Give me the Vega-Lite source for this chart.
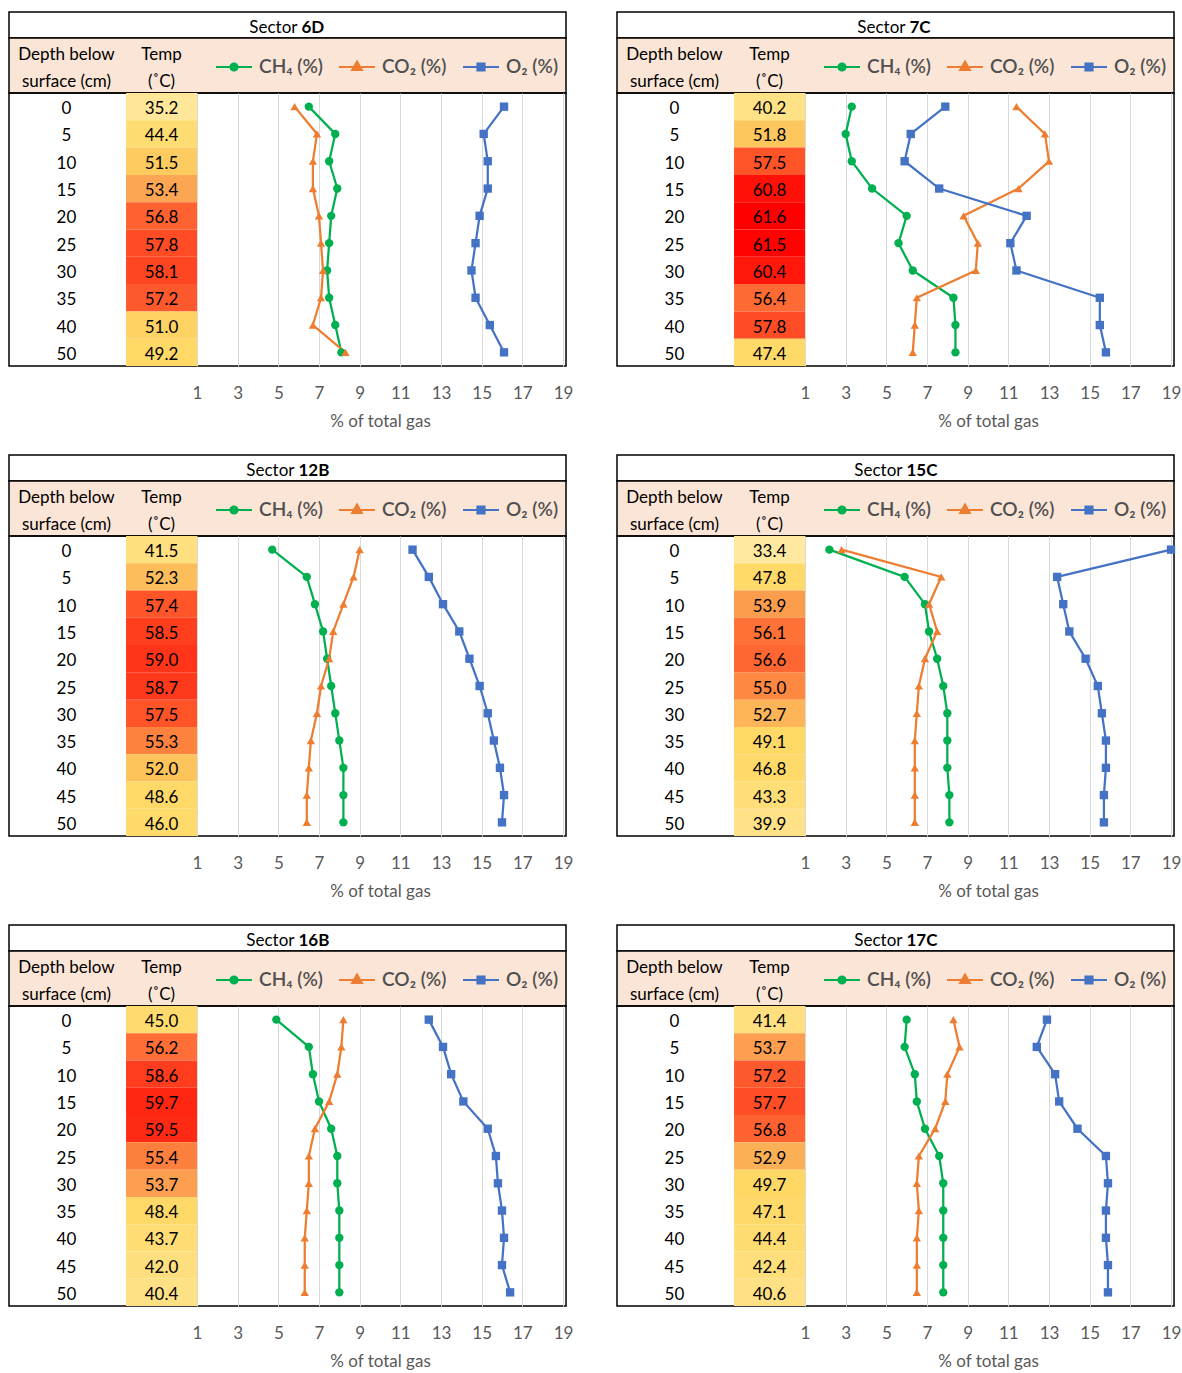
{
  "$schema": "https://vega.github.io/schema/vega-lite/v6.json",
  "padding": {"left": 8, "top": 11, "right": 2, "bottom": 0},
  "config": {
    "font": "Lato",
    "view": {"stroke": null},
    "text": {"font": "Lato", "fontSize": 17, "color": "#000000"},
    "axis": {"labelFont": "Lato", "titleFont": "Lato"}
  },
  "datasets": {
    "d6D": [
      {"depth": 0, "temp": 35.2, "ch4": 6.5, "co2": 5.8, "o2": 16.1},
      {"depth": 5, "temp": 44.4, "ch4": 7.8, "co2": 6.9, "o2": 15.1},
      {"depth": 10, "temp": 51.5, "ch4": 7.5, "co2": 6.7, "o2": 15.3},
      {"depth": 15, "temp": 53.4, "ch4": 7.9, "co2": 6.7, "o2": 15.3},
      {"depth": 20, "temp": 56.8, "ch4": 7.6, "co2": 7.0, "o2": 14.9},
      {"depth": 25, "temp": 57.8, "ch4": 7.5, "co2": 7.1, "o2": 14.7},
      {"depth": 30, "temp": 58.1, "ch4": 7.4, "co2": 7.2, "o2": 14.5},
      {"depth": 35, "temp": 57.2, "ch4": 7.5, "co2": 7.1, "o2": 14.7},
      {"depth": 40, "temp": 51.0, "ch4": 7.8, "co2": 6.7, "o2": 15.4},
      {"depth": 50, "temp": 49.2, "ch4": 8.1, "co2": 8.3, "o2": 16.1}
    ],
    "d7C": [
      {"depth": 0, "temp": 40.2, "ch4": 3.3, "co2": 11.4, "o2": 7.9},
      {"depth": 5, "temp": 51.8, "ch4": 3.0, "co2": 12.8, "o2": 6.2},
      {"depth": 10, "temp": 57.5, "ch4": 3.3, "co2": 13.0, "o2": 5.9},
      {"depth": 15, "temp": 60.8, "ch4": 4.3, "co2": 11.5, "o2": 7.6},
      {"depth": 20, "temp": 61.6, "ch4": 6.0, "co2": 8.8, "o2": 11.9},
      {"depth": 25, "temp": 61.5, "ch4": 5.6, "co2": 9.5, "o2": 11.1},
      {"depth": 30, "temp": 60.4, "ch4": 6.3, "co2": 9.4, "o2": 11.4},
      {"depth": 35, "temp": 56.4, "ch4": 8.3, "co2": 6.5, "o2": 15.5},
      {"depth": 40, "temp": 57.8, "ch4": 8.4, "co2": 6.4, "o2": 15.5},
      {"depth": 50, "temp": 47.4, "ch4": 8.4, "co2": 6.3, "o2": 15.8}
    ],
    "d12B": [
      {"depth": 0, "temp": 41.5, "ch4": 4.7, "co2": 9.0, "o2": 11.6},
      {"depth": 5, "temp": 52.3, "ch4": 6.4, "co2": 8.7, "o2": 12.4},
      {"depth": 10, "temp": 57.4, "ch4": 6.8, "co2": 8.2, "o2": 13.1},
      {"depth": 15, "temp": 58.5, "ch4": 7.2, "co2": 7.7, "o2": 13.9},
      {"depth": 20, "temp": 59.0, "ch4": 7.4, "co2": 7.5, "o2": 14.4},
      {"depth": 25, "temp": 58.7, "ch4": 7.6, "co2": 7.1, "o2": 14.9},
      {"depth": 30, "temp": 57.5, "ch4": 7.8, "co2": 6.9, "o2": 15.3},
      {"depth": 35, "temp": 55.3, "ch4": 8.0, "co2": 6.6, "o2": 15.6},
      {"depth": 40, "temp": 52.0, "ch4": 8.2, "co2": 6.5, "o2": 15.9},
      {"depth": 45, "temp": 48.6, "ch4": 8.2, "co2": 6.4, "o2": 16.1},
      {"depth": 50, "temp": 46.0, "ch4": 8.2, "co2": 6.4, "o2": 16.0}
    ],
    "d15C": [
      {"depth": 0, "temp": 33.4, "ch4": 2.2, "co2": 2.8, "o2": 19.0},
      {"depth": 5, "temp": 47.8, "ch4": 5.9, "co2": 7.7, "o2": 13.4},
      {"depth": 10, "temp": 53.9, "ch4": 6.9, "co2": 7.1, "o2": 13.7},
      {"depth": 15, "temp": 56.1, "ch4": 7.1, "co2": 7.5, "o2": 14.0},
      {"depth": 20, "temp": 56.6, "ch4": 7.5, "co2": 6.9, "o2": 14.8},
      {"depth": 25, "temp": 55.0, "ch4": 7.8, "co2": 6.6, "o2": 15.4},
      {"depth": 30, "temp": 52.7, "ch4": 8.0, "co2": 6.5, "o2": 15.6},
      {"depth": 35, "temp": 49.1, "ch4": 8.0, "co2": 6.4, "o2": 15.8},
      {"depth": 40, "temp": 46.8, "ch4": 8.0, "co2": 6.4, "o2": 15.8},
      {"depth": 45, "temp": 43.3, "ch4": 8.1, "co2": 6.4, "o2": 15.7},
      {"depth": 50, "temp": 39.9, "ch4": 8.1, "co2": 6.4, "o2": 15.7}
    ],
    "d16B": [
      {"depth": 0, "temp": 45.0, "ch4": 4.9, "co2": 8.2, "o2": 12.4},
      {"depth": 5, "temp": 56.2, "ch4": 6.5, "co2": 8.1, "o2": 13.1},
      {"depth": 10, "temp": 58.6, "ch4": 6.7, "co2": 7.9, "o2": 13.5},
      {"depth": 15, "temp": 59.7, "ch4": 7.0, "co2": 7.5, "o2": 14.1},
      {"depth": 20, "temp": 59.5, "ch4": 7.6, "co2": 6.8, "o2": 15.3},
      {"depth": 25, "temp": 55.4, "ch4": 7.9, "co2": 6.5, "o2": 15.7},
      {"depth": 30, "temp": 53.7, "ch4": 7.9, "co2": 6.5, "o2": 15.8},
      {"depth": 35, "temp": 48.4, "ch4": 8.0, "co2": 6.4, "o2": 16.0},
      {"depth": 40, "temp": 43.7, "ch4": 8.0, "co2": 6.3, "o2": 16.1},
      {"depth": 45, "temp": 42.0, "ch4": 8.0, "co2": 6.3, "o2": 16.0},
      {"depth": 50, "temp": 40.4, "ch4": 8.0, "co2": 6.3, "o2": 16.4}
    ],
    "d17C": [
      {"depth": 0, "temp": 41.4, "ch4": 6.0, "co2": 8.3, "o2": 12.9},
      {"depth": 5, "temp": 53.7, "ch4": 5.9, "co2": 8.6, "o2": 12.4},
      {"depth": 10, "temp": 57.2, "ch4": 6.4, "co2": 8.0, "o2": 13.3},
      {"depth": 15, "temp": 57.7, "ch4": 6.5, "co2": 7.9, "o2": 13.5},
      {"depth": 20, "temp": 56.8, "ch4": 6.9, "co2": 7.4, "o2": 14.4},
      {"depth": 25, "temp": 52.9, "ch4": 7.6, "co2": 6.6, "o2": 15.8},
      {"depth": 30, "temp": 49.7, "ch4": 7.8, "co2": 6.5, "o2": 15.9},
      {"depth": 35, "temp": 47.1, "ch4": 7.8, "co2": 6.6, "o2": 15.8},
      {"depth": 40, "temp": 44.4, "ch4": 7.8, "co2": 6.5, "o2": 15.8},
      {"depth": 45, "temp": 42.4, "ch4": 7.8, "co2": 6.5, "o2": 15.9},
      {"depth": 50, "temp": 40.6, "ch4": 7.8, "co2": 6.5, "o2": 15.9}
    ]
  },
  "resolve": {"scale": {"color": "independent"}, "legend": {"color": "independent"}},
  "spacing": 24,
  "vconcat": [
    {
      "hconcat": [
        {
          "spacing": 0, "bounds": "flush",
          "resolve": {"scale": {"color": "independent"}, "legend": {"color": "independent"}},
          "vconcat": [
            {"width": 557, "height": 26, "view": {"stroke": "#000000", "strokeWidth": 1.5, "fill": "#ffffff"},
             "data": {"values": [{"word": "Sector", "code": "6D"}]},
             "layer": [
               {"mark": {"type": "text", "align": "right", "baseline": "middle", "dx": 10, "dy": 2.5}, "encoding": {"text": {"field": "word", "type": "nominal"}}},
               {"mark": {"type": "text", "align": "left", "baseline": "middle", "dx": 14, "dy": 2.5, "fontWeight": "bold"}, "encoding": {"text": {"field": "code", "type": "nominal"}}}
             ]},
            {"width": 557, "height": 55, "view": {"stroke": "#000000", "strokeWidth": 1.5, "fill": "#fbe5d6"},
             "data": {"values": [{"depthHead": "Depth below\nsurface (cm)", "tempHead": "Temp\n(˚C)"}]},
             "layer": [
               {"mark": {"type": "text", "lineBreak": "\n", "lineHeight": 27, "baseline": "middle", "dy": -10.5}, "encoding": {"x": {"datum": -5.42, "type": "quantitative", "scale": {"domain": [-8.246, 19.148], "nice": false, "zero": false}, "axis": null}, "text": {"field": "depthHead", "type": "nominal"}}},
               {"mark": {"type": "text", "lineBreak": "\n", "lineHeight": 27, "baseline": "middle", "dy": -10.5}, "encoding": {"x": {"datum": -0.746, "type": "quantitative", "axis": null}, "text": {"field": "tempHead", "type": "nominal"}}}
             ]},
            {"width": 557, "height": 273, "view": {"stroke": "#000000", "strokeWidth": 1.5},
             "data": {"name": "d6D"},
             "encoding": {"y": {"field": "depth", "type": "ordinal", "scale": {"type": "band", "paddingInner": 0, "paddingOuter": 0}, "axis": null}},
             "layer": [
               {"mark": {"type": "rect"}, "encoding": {"x": {"datum": -2.49, "type": "quantitative", "title": "% of total gas"}, "x2": {"datum": 1}, "fill": {"field": "temp", "type": "quantitative", "legend": null, "scale": {"type": "linear", "domain": [33.4, 40, 45, 49, 51, 52, 53.5, 55, 56.5, 58, 59.5, 61.6], "range": ["#ffe8a0", "#ffe187", "#ffdb6e", "#ffd966", "#fed263", "#fdc45c", "#fca352", "#fd8841", "#fe6833", "#ff4823", "#ff2a14", "#ff0000"], "interpolate": "rgb"}}}},
               {"mark": {"type": "text", "baseline": "middle", "dy": 2.5}, "encoding": {"x": {"datum": -0.746, "type": "quantitative", "title": "% of total gas"}, "text": {"field": "temp", "type": "quantitative", "format": ".1f"}}},
               {"mark": {"type": "text", "baseline": "middle", "dy": 2.5}, "encoding": {"x": {"datum": -5.42, "type": "quantitative", "title": "% of total gas"}, "text": {"field": "depth", "type": "quantitative"}}},
               {"transform": [{"fold": ["ch4", "co2", "o2"], "as": ["gas", "pct"]}],
                "encoding": {
                  "x": {"field": "pct", "type": "quantitative", "title": "% of total gas", "scale": {"domain": [-8.246, 19.148], "nice": false, "zero": false},
                        "axis": {"values": [1, 3, 5, 7, 9, 11, 13, 15, 17, 19], "grid": true, "gridColor": "#d9d9d9", "gridWidth": 1, "domain": false, "ticks": false, "labelFontSize": 17, "labelColor": "#595959", "labelPadding": 19, "titleFontSize": 17, "titleFontWeight": "normal", "titleColor": "#595959", "titlePadding": 12, "titleX": 371}},
                  "color": {"field": "gas", "type": "nominal", "scale": {"domain": ["ch4", "co2", "o2"], "range": ["#00b050", "#ed7d31", "#4472c4"]},
                            "legend": {"orient": "none", "legendX": 206, "legendY": -45, "direction": "horizontal", "title": null, "padding": 0,
                                       "labelExpr": "datum.value == 'ch4' ? 'CH₄ (%)' : datum.value == 'co2' ? 'CO₂ (%)' : 'O₂ (%)'",
                                       "labelFont": "Lato", "labelFontSize": 19, "labelColor": "#505050", "labelFontWeight": 600, "labelOffset": 6, "symbolSize": 1296, "symbolOpacity": 1, "columnPadding": 12,
                                       "encode": {"symbols": {"update": {
                                         "shape": {"signal": "datum.value == 'ch4' ? 'M-1,0L1,0M0.2,0A0.2,0.2,0,1,0,-0.2,0A0.2,0.2,0,1,0,0.2,0Z' : datum.value == 'co2' ? 'M-1,0L1,0M0,-0.3L0.27,0.17L-0.27,0.17Z' : 'M-1,0L1,0M-0.2,-0.2L0.2,-0.2L0.2,0.2L-0.2,0.2Z'"},
                                         "fill": {"signal": "datum.value == 'ch4' ? '#00b050' : datum.value == 'co2' ? '#ed7d31' : '#4472c4'"},
                                         "stroke": {"signal": "datum.value == 'ch4' ? '#00b050' : datum.value == 'co2' ? '#ed7d31' : '#4472c4'"},
                                         "strokeWidth": {"value": 2}, "opacity": {"value": 1}}}}}},
                  "order": {"field": "depth", "type": "quantitative"}
                },
                "layer": [
                  {"mark": {"type": "line", "strokeWidth": 2.25}},
                  {"mark": {"type": "point", "filled": true, "opacity": 1, "size": 70}, "encoding": {"shape": {"field": "gas", "type": "nominal", "scale": {"domain": ["ch4", "co2", "o2"], "range": ["circle", "triangle-up", "square"]}, "legend": null}}}
                ]}
             ]}
          ]
        },
        {
          "spacing": 0, "bounds": "flush",
          "resolve": {"scale": {"color": "independent"}, "legend": {"color": "independent"}},
          "vconcat": [
            {"width": 557, "height": 26, "view": {"stroke": "#000000", "strokeWidth": 1.5, "fill": "#ffffff"},
             "data": {"values": [{"word": "Sector", "code": "7C"}]},
             "layer": [
               {"mark": {"type": "text", "align": "right", "baseline": "middle", "dx": 10, "dy": 2.5}, "encoding": {"text": {"field": "word", "type": "nominal"}}},
               {"mark": {"type": "text", "align": "left", "baseline": "middle", "dx": 14, "dy": 2.5, "fontWeight": "bold"}, "encoding": {"text": {"field": "code", "type": "nominal"}}}
             ]},
            {"width": 557, "height": 55, "view": {"stroke": "#000000", "strokeWidth": 1.5, "fill": "#fbe5d6"},
             "data": {"values": [{"depthHead": "Depth below\nsurface (cm)", "tempHead": "Temp\n(˚C)"}]},
             "layer": [
               {"mark": {"type": "text", "lineBreak": "\n", "lineHeight": 27, "baseline": "middle", "dy": -10.5}, "encoding": {"x": {"datum": -5.42, "type": "quantitative", "scale": {"domain": [-8.246, 19.148], "nice": false, "zero": false}, "axis": null}, "text": {"field": "depthHead", "type": "nominal"}}},
               {"mark": {"type": "text", "lineBreak": "\n", "lineHeight": 27, "baseline": "middle", "dy": -10.5}, "encoding": {"x": {"datum": -0.746, "type": "quantitative", "axis": null}, "text": {"field": "tempHead", "type": "nominal"}}}
             ]},
            {"width": 557, "height": 273, "view": {"stroke": "#000000", "strokeWidth": 1.5},
             "data": {"name": "d7C"},
             "encoding": {"y": {"field": "depth", "type": "ordinal", "scale": {"type": "band", "paddingInner": 0, "paddingOuter": 0}, "axis": null}},
             "layer": [
               {"mark": {"type": "rect"}, "encoding": {"x": {"datum": -2.49, "type": "quantitative", "title": "% of total gas"}, "x2": {"datum": 1}, "fill": {"field": "temp", "type": "quantitative", "legend": null, "scale": {"type": "linear", "domain": [33.4, 40, 45, 49, 51, 52, 53.5, 55, 56.5, 58, 59.5, 61.6], "range": ["#ffe8a0", "#ffe187", "#ffdb6e", "#ffd966", "#fed263", "#fdc45c", "#fca352", "#fd8841", "#fe6833", "#ff4823", "#ff2a14", "#ff0000"], "interpolate": "rgb"}}}},
               {"mark": {"type": "text", "baseline": "middle", "dy": 2.5}, "encoding": {"x": {"datum": -0.746, "type": "quantitative", "title": "% of total gas"}, "text": {"field": "temp", "type": "quantitative", "format": ".1f"}}},
               {"mark": {"type": "text", "baseline": "middle", "dy": 2.5}, "encoding": {"x": {"datum": -5.42, "type": "quantitative", "title": "% of total gas"}, "text": {"field": "depth", "type": "quantitative"}}},
               {"transform": [{"fold": ["ch4", "co2", "o2"], "as": ["gas", "pct"]}],
                "encoding": {
                  "x": {"field": "pct", "type": "quantitative", "title": "% of total gas", "scale": {"domain": [-8.246, 19.148], "nice": false, "zero": false},
                        "axis": {"values": [1, 3, 5, 7, 9, 11, 13, 15, 17, 19], "grid": true, "gridColor": "#d9d9d9", "gridWidth": 1, "domain": false, "ticks": false, "labelFontSize": 17, "labelColor": "#595959", "labelPadding": 19, "titleFontSize": 17, "titleFontWeight": "normal", "titleColor": "#595959", "titlePadding": 12, "titleX": 371}},
                  "color": {"field": "gas", "type": "nominal", "scale": {"domain": ["ch4", "co2", "o2"], "range": ["#00b050", "#ed7d31", "#4472c4"]},
                            "legend": {"orient": "none", "legendX": 206, "legendY": -45, "direction": "horizontal", "title": null, "padding": 0,
                                       "labelExpr": "datum.value == 'ch4' ? 'CH₄ (%)' : datum.value == 'co2' ? 'CO₂ (%)' : 'O₂ (%)'",
                                       "labelFont": "Lato", "labelFontSize": 19, "labelColor": "#505050", "labelFontWeight": 600, "labelOffset": 6, "symbolSize": 1296, "symbolOpacity": 1, "columnPadding": 12,
                                       "encode": {"symbols": {"update": {
                                         "shape": {"signal": "datum.value == 'ch4' ? 'M-1,0L1,0M0.2,0A0.2,0.2,0,1,0,-0.2,0A0.2,0.2,0,1,0,0.2,0Z' : datum.value == 'co2' ? 'M-1,0L1,0M0,-0.3L0.27,0.17L-0.27,0.17Z' : 'M-1,0L1,0M-0.2,-0.2L0.2,-0.2L0.2,0.2L-0.2,0.2Z'"},
                                         "fill": {"signal": "datum.value == 'ch4' ? '#00b050' : datum.value == 'co2' ? '#ed7d31' : '#4472c4'"},
                                         "stroke": {"signal": "datum.value == 'ch4' ? '#00b050' : datum.value == 'co2' ? '#ed7d31' : '#4472c4'"},
                                         "strokeWidth": {"value": 2}, "opacity": {"value": 1}}}}}},
                  "order": {"field": "depth", "type": "quantitative"}
                },
                "layer": [
                  {"mark": {"type": "line", "strokeWidth": 2.25}},
                  {"mark": {"type": "point", "filled": true, "opacity": 1, "size": 70}, "encoding": {"shape": {"field": "gas", "type": "nominal", "scale": {"domain": ["ch4", "co2", "o2"], "range": ["circle", "triangle-up", "square"]}, "legend": null}}}
                ]}
             ]}
          ]
        }
      ],
      "spacing": 42,
      "resolve": {"scale": {"color": "independent"}, "legend": {"color": "independent"}}
    },
    {
      "hconcat": [
        {
          "spacing": 0, "bounds": "flush",
          "resolve": {"scale": {"color": "independent"}, "legend": {"color": "independent"}},
          "vconcat": [
            {"width": 557, "height": 26, "view": {"stroke": "#000000", "strokeWidth": 1.5, "fill": "#ffffff"},
             "data": {"values": [{"word": "Sector", "code": "12B"}]},
             "layer": [
               {"mark": {"type": "text", "align": "right", "baseline": "middle", "dx": 7, "dy": 2.5}, "encoding": {"text": {"field": "word", "type": "nominal"}}},
               {"mark": {"type": "text", "align": "left", "baseline": "middle", "dx": 11, "dy": 2.5, "fontWeight": "bold"}, "encoding": {"text": {"field": "code", "type": "nominal"}}}
             ]},
            {"width": 557, "height": 55, "view": {"stroke": "#000000", "strokeWidth": 1.5, "fill": "#fbe5d6"},
             "data": {"values": [{"depthHead": "Depth below\nsurface (cm)", "tempHead": "Temp\n(˚C)"}]},
             "layer": [
               {"mark": {"type": "text", "lineBreak": "\n", "lineHeight": 27, "baseline": "middle", "dy": -10.5}, "encoding": {"x": {"datum": -5.42, "type": "quantitative", "scale": {"domain": [-8.246, 19.148], "nice": false, "zero": false}, "axis": null}, "text": {"field": "depthHead", "type": "nominal"}}},
               {"mark": {"type": "text", "lineBreak": "\n", "lineHeight": 27, "baseline": "middle", "dy": -10.5}, "encoding": {"x": {"datum": -0.746, "type": "quantitative", "axis": null}, "text": {"field": "tempHead", "type": "nominal"}}}
             ]},
            {"width": 557, "height": 300, "view": {"stroke": "#000000", "strokeWidth": 1.5},
             "data": {"name": "d12B"},
             "encoding": {"y": {"field": "depth", "type": "ordinal", "scale": {"type": "band", "paddingInner": 0, "paddingOuter": 0}, "axis": null}},
             "layer": [
               {"mark": {"type": "rect"}, "encoding": {"x": {"datum": -2.49, "type": "quantitative", "title": "% of total gas"}, "x2": {"datum": 1}, "fill": {"field": "temp", "type": "quantitative", "legend": null, "scale": {"type": "linear", "domain": [33.4, 40, 45, 49, 51, 52, 53.5, 55, 56.5, 58, 59.5, 61.6], "range": ["#ffe8a0", "#ffe187", "#ffdb6e", "#ffd966", "#fed263", "#fdc45c", "#fca352", "#fd8841", "#fe6833", "#ff4823", "#ff2a14", "#ff0000"], "interpolate": "rgb"}}}},
               {"mark": {"type": "text", "baseline": "middle", "dy": 2.5}, "encoding": {"x": {"datum": -0.746, "type": "quantitative", "title": "% of total gas"}, "text": {"field": "temp", "type": "quantitative", "format": ".1f"}}},
               {"mark": {"type": "text", "baseline": "middle", "dy": 2.5}, "encoding": {"x": {"datum": -5.42, "type": "quantitative", "title": "% of total gas"}, "text": {"field": "depth", "type": "quantitative"}}},
               {"transform": [{"fold": ["ch4", "co2", "o2"], "as": ["gas", "pct"]}],
                "encoding": {
                  "x": {"field": "pct", "type": "quantitative", "title": "% of total gas", "scale": {"domain": [-8.246, 19.148], "nice": false, "zero": false},
                        "axis": {"values": [1, 3, 5, 7, 9, 11, 13, 15, 17, 19], "grid": true, "gridColor": "#d9d9d9", "gridWidth": 1, "domain": false, "ticks": false, "labelFontSize": 17, "labelColor": "#595959", "labelPadding": 19, "titleFontSize": 17, "titleFontWeight": "normal", "titleColor": "#595959", "titlePadding": 12, "titleX": 371}},
                  "color": {"field": "gas", "type": "nominal", "scale": {"domain": ["ch4", "co2", "o2"], "range": ["#00b050", "#ed7d31", "#4472c4"]},
                            "legend": {"orient": "none", "legendX": 206, "legendY": -45, "direction": "horizontal", "title": null, "padding": 0,
                                       "labelExpr": "datum.value == 'ch4' ? 'CH₄ (%)' : datum.value == 'co2' ? 'CO₂ (%)' : 'O₂ (%)'",
                                       "labelFont": "Lato", "labelFontSize": 19, "labelColor": "#505050", "labelFontWeight": 600, "labelOffset": 6, "symbolSize": 1296, "symbolOpacity": 1, "columnPadding": 12,
                                       "encode": {"symbols": {"update": {
                                         "shape": {"signal": "datum.value == 'ch4' ? 'M-1,0L1,0M0.2,0A0.2,0.2,0,1,0,-0.2,0A0.2,0.2,0,1,0,0.2,0Z' : datum.value == 'co2' ? 'M-1,0L1,0M0,-0.3L0.27,0.17L-0.27,0.17Z' : 'M-1,0L1,0M-0.2,-0.2L0.2,-0.2L0.2,0.2L-0.2,0.2Z'"},
                                         "fill": {"signal": "datum.value == 'ch4' ? '#00b050' : datum.value == 'co2' ? '#ed7d31' : '#4472c4'"},
                                         "stroke": {"signal": "datum.value == 'ch4' ? '#00b050' : datum.value == 'co2' ? '#ed7d31' : '#4472c4'"},
                                         "strokeWidth": {"value": 2}, "opacity": {"value": 1}}}}}},
                  "order": {"field": "depth", "type": "quantitative"}
                },
                "layer": [
                  {"mark": {"type": "line", "strokeWidth": 2.25}},
                  {"mark": {"type": "point", "filled": true, "opacity": 1, "size": 70}, "encoding": {"shape": {"field": "gas", "type": "nominal", "scale": {"domain": ["ch4", "co2", "o2"], "range": ["circle", "triangle-up", "square"]}, "legend": null}}}
                ]}
             ]}
          ]
        },
        {
          "spacing": 0, "bounds": "flush",
          "resolve": {"scale": {"color": "independent"}, "legend": {"color": "independent"}},
          "vconcat": [
            {"width": 557, "height": 26, "view": {"stroke": "#000000", "strokeWidth": 1.5, "fill": "#ffffff"},
             "data": {"values": [{"word": "Sector", "code": "15C"}]},
             "layer": [
               {"mark": {"type": "text", "align": "right", "baseline": "middle", "dx": 7, "dy": 2.5}, "encoding": {"text": {"field": "word", "type": "nominal"}}},
               {"mark": {"type": "text", "align": "left", "baseline": "middle", "dx": 11, "dy": 2.5, "fontWeight": "bold"}, "encoding": {"text": {"field": "code", "type": "nominal"}}}
             ]},
            {"width": 557, "height": 55, "view": {"stroke": "#000000", "strokeWidth": 1.5, "fill": "#fbe5d6"},
             "data": {"values": [{"depthHead": "Depth below\nsurface (cm)", "tempHead": "Temp\n(˚C)"}]},
             "layer": [
               {"mark": {"type": "text", "lineBreak": "\n", "lineHeight": 27, "baseline": "middle", "dy": -10.5}, "encoding": {"x": {"datum": -5.42, "type": "quantitative", "scale": {"domain": [-8.246, 19.148], "nice": false, "zero": false}, "axis": null}, "text": {"field": "depthHead", "type": "nominal"}}},
               {"mark": {"type": "text", "lineBreak": "\n", "lineHeight": 27, "baseline": "middle", "dy": -10.5}, "encoding": {"x": {"datum": -0.746, "type": "quantitative", "axis": null}, "text": {"field": "tempHead", "type": "nominal"}}}
             ]},
            {"width": 557, "height": 300, "view": {"stroke": "#000000", "strokeWidth": 1.5},
             "data": {"name": "d15C"},
             "encoding": {"y": {"field": "depth", "type": "ordinal", "scale": {"type": "band", "paddingInner": 0, "paddingOuter": 0}, "axis": null}},
             "layer": [
               {"mark": {"type": "rect"}, "encoding": {"x": {"datum": -2.49, "type": "quantitative", "title": "% of total gas"}, "x2": {"datum": 1}, "fill": {"field": "temp", "type": "quantitative", "legend": null, "scale": {"type": "linear", "domain": [33.4, 40, 45, 49, 51, 52, 53.5, 55, 56.5, 58, 59.5, 61.6], "range": ["#ffe8a0", "#ffe187", "#ffdb6e", "#ffd966", "#fed263", "#fdc45c", "#fca352", "#fd8841", "#fe6833", "#ff4823", "#ff2a14", "#ff0000"], "interpolate": "rgb"}}}},
               {"mark": {"type": "text", "baseline": "middle", "dy": 2.5}, "encoding": {"x": {"datum": -0.746, "type": "quantitative", "title": "% of total gas"}, "text": {"field": "temp", "type": "quantitative", "format": ".1f"}}},
               {"mark": {"type": "text", "baseline": "middle", "dy": 2.5}, "encoding": {"x": {"datum": -5.42, "type": "quantitative", "title": "% of total gas"}, "text": {"field": "depth", "type": "quantitative"}}},
               {"transform": [{"fold": ["ch4", "co2", "o2"], "as": ["gas", "pct"]}],
                "encoding": {
                  "x": {"field": "pct", "type": "quantitative", "title": "% of total gas", "scale": {"domain": [-8.246, 19.148], "nice": false, "zero": false},
                        "axis": {"values": [1, 3, 5, 7, 9, 11, 13, 15, 17, 19], "grid": true, "gridColor": "#d9d9d9", "gridWidth": 1, "domain": false, "ticks": false, "labelFontSize": 17, "labelColor": "#595959", "labelPadding": 19, "titleFontSize": 17, "titleFontWeight": "normal", "titleColor": "#595959", "titlePadding": 12, "titleX": 371}},
                  "color": {"field": "gas", "type": "nominal", "scale": {"domain": ["ch4", "co2", "o2"], "range": ["#00b050", "#ed7d31", "#4472c4"]},
                            "legend": {"orient": "none", "legendX": 206, "legendY": -45, "direction": "horizontal", "title": null, "padding": 0,
                                       "labelExpr": "datum.value == 'ch4' ? 'CH₄ (%)' : datum.value == 'co2' ? 'CO₂ (%)' : 'O₂ (%)'",
                                       "labelFont": "Lato", "labelFontSize": 19, "labelColor": "#505050", "labelFontWeight": 600, "labelOffset": 6, "symbolSize": 1296, "symbolOpacity": 1, "columnPadding": 12,
                                       "encode": {"symbols": {"update": {
                                         "shape": {"signal": "datum.value == 'ch4' ? 'M-1,0L1,0M0.2,0A0.2,0.2,0,1,0,-0.2,0A0.2,0.2,0,1,0,0.2,0Z' : datum.value == 'co2' ? 'M-1,0L1,0M0,-0.3L0.27,0.17L-0.27,0.17Z' : 'M-1,0L1,0M-0.2,-0.2L0.2,-0.2L0.2,0.2L-0.2,0.2Z'"},
                                         "fill": {"signal": "datum.value == 'ch4' ? '#00b050' : datum.value == 'co2' ? '#ed7d31' : '#4472c4'"},
                                         "stroke": {"signal": "datum.value == 'ch4' ? '#00b050' : datum.value == 'co2' ? '#ed7d31' : '#4472c4'"},
                                         "strokeWidth": {"value": 2}, "opacity": {"value": 1}}}}}},
                  "order": {"field": "depth", "type": "quantitative"}
                },
                "layer": [
                  {"mark": {"type": "line", "strokeWidth": 2.25}},
                  {"mark": {"type": "point", "filled": true, "opacity": 1, "size": 70}, "encoding": {"shape": {"field": "gas", "type": "nominal", "scale": {"domain": ["ch4", "co2", "o2"], "range": ["circle", "triangle-up", "square"]}, "legend": null}}}
                ]}
             ]}
          ]
        }
      ],
      "spacing": 42,
      "resolve": {"scale": {"color": "independent"}, "legend": {"color": "independent"}}
    },
    {
      "hconcat": [
        {
          "spacing": 0, "bounds": "flush",
          "resolve": {"scale": {"color": "independent"}, "legend": {"color": "independent"}},
          "vconcat": [
            {"width": 557, "height": 26, "view": {"stroke": "#000000", "strokeWidth": 1.5, "fill": "#ffffff"},
             "data": {"values": [{"word": "Sector", "code": "16B"}]},
             "layer": [
               {"mark": {"type": "text", "align": "right", "baseline": "middle", "dx": 7, "dy": 2.5}, "encoding": {"text": {"field": "word", "type": "nominal"}}},
               {"mark": {"type": "text", "align": "left", "baseline": "middle", "dx": 11, "dy": 2.5, "fontWeight": "bold"}, "encoding": {"text": {"field": "code", "type": "nominal"}}}
             ]},
            {"width": 557, "height": 55, "view": {"stroke": "#000000", "strokeWidth": 1.5, "fill": "#fbe5d6"},
             "data": {"values": [{"depthHead": "Depth below\nsurface (cm)", "tempHead": "Temp\n(˚C)"}]},
             "layer": [
               {"mark": {"type": "text", "lineBreak": "\n", "lineHeight": 27, "baseline": "middle", "dy": -10.5}, "encoding": {"x": {"datum": -5.42, "type": "quantitative", "scale": {"domain": [-8.246, 19.148], "nice": false, "zero": false}, "axis": null}, "text": {"field": "depthHead", "type": "nominal"}}},
               {"mark": {"type": "text", "lineBreak": "\n", "lineHeight": 27, "baseline": "middle", "dy": -10.5}, "encoding": {"x": {"datum": -0.746, "type": "quantitative", "axis": null}, "text": {"field": "tempHead", "type": "nominal"}}}
             ]},
            {"width": 557, "height": 300, "view": {"stroke": "#000000", "strokeWidth": 1.5},
             "data": {"name": "d16B"},
             "encoding": {"y": {"field": "depth", "type": "ordinal", "scale": {"type": "band", "paddingInner": 0, "paddingOuter": 0}, "axis": null}},
             "layer": [
               {"mark": {"type": "rect"}, "encoding": {"x": {"datum": -2.49, "type": "quantitative", "title": "% of total gas"}, "x2": {"datum": 1}, "fill": {"field": "temp", "type": "quantitative", "legend": null, "scale": {"type": "linear", "domain": [33.4, 40, 45, 49, 51, 52, 53.5, 55, 56.5, 58, 59.5, 61.6], "range": ["#ffe8a0", "#ffe187", "#ffdb6e", "#ffd966", "#fed263", "#fdc45c", "#fca352", "#fd8841", "#fe6833", "#ff4823", "#ff2a14", "#ff0000"], "interpolate": "rgb"}}}},
               {"mark": {"type": "text", "baseline": "middle", "dy": 2.5}, "encoding": {"x": {"datum": -0.746, "type": "quantitative", "title": "% of total gas"}, "text": {"field": "temp", "type": "quantitative", "format": ".1f"}}},
               {"mark": {"type": "text", "baseline": "middle", "dy": 2.5}, "encoding": {"x": {"datum": -5.42, "type": "quantitative", "title": "% of total gas"}, "text": {"field": "depth", "type": "quantitative"}}},
               {"transform": [{"fold": ["ch4", "co2", "o2"], "as": ["gas", "pct"]}],
                "encoding": {
                  "x": {"field": "pct", "type": "quantitative", "title": "% of total gas", "scale": {"domain": [-8.246, 19.148], "nice": false, "zero": false},
                        "axis": {"values": [1, 3, 5, 7, 9, 11, 13, 15, 17, 19], "grid": true, "gridColor": "#d9d9d9", "gridWidth": 1, "domain": false, "ticks": false, "labelFontSize": 17, "labelColor": "#595959", "labelPadding": 19, "titleFontSize": 17, "titleFontWeight": "normal", "titleColor": "#595959", "titlePadding": 12, "titleX": 371}},
                  "color": {"field": "gas", "type": "nominal", "scale": {"domain": ["ch4", "co2", "o2"], "range": ["#00b050", "#ed7d31", "#4472c4"]},
                            "legend": {"orient": "none", "legendX": 206, "legendY": -45, "direction": "horizontal", "title": null, "padding": 0,
                                       "labelExpr": "datum.value == 'ch4' ? 'CH₄ (%)' : datum.value == 'co2' ? 'CO₂ (%)' : 'O₂ (%)'",
                                       "labelFont": "Lato", "labelFontSize": 19, "labelColor": "#505050", "labelFontWeight": 600, "labelOffset": 6, "symbolSize": 1296, "symbolOpacity": 1, "columnPadding": 12,
                                       "encode": {"symbols": {"update": {
                                         "shape": {"signal": "datum.value == 'ch4' ? 'M-1,0L1,0M0.2,0A0.2,0.2,0,1,0,-0.2,0A0.2,0.2,0,1,0,0.2,0Z' : datum.value == 'co2' ? 'M-1,0L1,0M0,-0.3L0.27,0.17L-0.27,0.17Z' : 'M-1,0L1,0M-0.2,-0.2L0.2,-0.2L0.2,0.2L-0.2,0.2Z'"},
                                         "fill": {"signal": "datum.value == 'ch4' ? '#00b050' : datum.value == 'co2' ? '#ed7d31' : '#4472c4'"},
                                         "stroke": {"signal": "datum.value == 'ch4' ? '#00b050' : datum.value == 'co2' ? '#ed7d31' : '#4472c4'"},
                                         "strokeWidth": {"value": 2}, "opacity": {"value": 1}}}}}},
                  "order": {"field": "depth", "type": "quantitative"}
                },
                "layer": [
                  {"mark": {"type": "line", "strokeWidth": 2.25}},
                  {"mark": {"type": "point", "filled": true, "opacity": 1, "size": 70}, "encoding": {"shape": {"field": "gas", "type": "nominal", "scale": {"domain": ["ch4", "co2", "o2"], "range": ["circle", "triangle-up", "square"]}, "legend": null}}}
                ]}
             ]}
          ]
        },
        {
          "spacing": 0, "bounds": "flush",
          "resolve": {"scale": {"color": "independent"}, "legend": {"color": "independent"}},
          "vconcat": [
            {"width": 557, "height": 26, "view": {"stroke": "#000000", "strokeWidth": 1.5, "fill": "#ffffff"},
             "data": {"values": [{"word": "Sector", "code": "17C"}]},
             "layer": [
               {"mark": {"type": "text", "align": "right", "baseline": "middle", "dx": 7, "dy": 2.5}, "encoding": {"text": {"field": "word", "type": "nominal"}}},
               {"mark": {"type": "text", "align": "left", "baseline": "middle", "dx": 11, "dy": 2.5, "fontWeight": "bold"}, "encoding": {"text": {"field": "code", "type": "nominal"}}}
             ]},
            {"width": 557, "height": 55, "view": {"stroke": "#000000", "strokeWidth": 1.5, "fill": "#fbe5d6"},
             "data": {"values": [{"depthHead": "Depth below\nsurface (cm)", "tempHead": "Temp\n(˚C)"}]},
             "layer": [
               {"mark": {"type": "text", "lineBreak": "\n", "lineHeight": 27, "baseline": "middle", "dy": -10.5}, "encoding": {"x": {"datum": -5.42, "type": "quantitative", "scale": {"domain": [-8.246, 19.148], "nice": false, "zero": false}, "axis": null}, "text": {"field": "depthHead", "type": "nominal"}}},
               {"mark": {"type": "text", "lineBreak": "\n", "lineHeight": 27, "baseline": "middle", "dy": -10.5}, "encoding": {"x": {"datum": -0.746, "type": "quantitative", "axis": null}, "text": {"field": "tempHead", "type": "nominal"}}}
             ]},
            {"width": 557, "height": 300, "view": {"stroke": "#000000", "strokeWidth": 1.5},
             "data": {"name": "d17C"},
             "encoding": {"y": {"field": "depth", "type": "ordinal", "scale": {"type": "band", "paddingInner": 0, "paddingOuter": 0}, "axis": null}},
             "layer": [
               {"mark": {"type": "rect"}, "encoding": {"x": {"datum": -2.49, "type": "quantitative", "title": "% of total gas"}, "x2": {"datum": 1}, "fill": {"field": "temp", "type": "quantitative", "legend": null, "scale": {"type": "linear", "domain": [33.4, 40, 45, 49, 51, 52, 53.5, 55, 56.5, 58, 59.5, 61.6], "range": ["#ffe8a0", "#ffe187", "#ffdb6e", "#ffd966", "#fed263", "#fdc45c", "#fca352", "#fd8841", "#fe6833", "#ff4823", "#ff2a14", "#ff0000"], "interpolate": "rgb"}}}},
               {"mark": {"type": "text", "baseline": "middle", "dy": 2.5}, "encoding": {"x": {"datum": -0.746, "type": "quantitative", "title": "% of total gas"}, "text": {"field": "temp", "type": "quantitative", "format": ".1f"}}},
               {"mark": {"type": "text", "baseline": "middle", "dy": 2.5}, "encoding": {"x": {"datum": -5.42, "type": "quantitative", "title": "% of total gas"}, "text": {"field": "depth", "type": "quantitative"}}},
               {"transform": [{"fold": ["ch4", "co2", "o2"], "as": ["gas", "pct"]}],
                "encoding": {
                  "x": {"field": "pct", "type": "quantitative", "title": "% of total gas", "scale": {"domain": [-8.246, 19.148], "nice": false, "zero": false},
                        "axis": {"values": [1, 3, 5, 7, 9, 11, 13, 15, 17, 19], "grid": true, "gridColor": "#d9d9d9", "gridWidth": 1, "domain": false, "ticks": false, "labelFontSize": 17, "labelColor": "#595959", "labelPadding": 19, "titleFontSize": 17, "titleFontWeight": "normal", "titleColor": "#595959", "titlePadding": 12, "titleX": 371}},
                  "color": {"field": "gas", "type": "nominal", "scale": {"domain": ["ch4", "co2", "o2"], "range": ["#00b050", "#ed7d31", "#4472c4"]},
                            "legend": {"orient": "none", "legendX": 206, "legendY": -45, "direction": "horizontal", "title": null, "padding": 0,
                                       "labelExpr": "datum.value == 'ch4' ? 'CH₄ (%)' : datum.value == 'co2' ? 'CO₂ (%)' : 'O₂ (%)'",
                                       "labelFont": "Lato", "labelFontSize": 19, "labelColor": "#505050", "labelFontWeight": 600, "labelOffset": 6, "symbolSize": 1296, "symbolOpacity": 1, "columnPadding": 12,
                                       "encode": {"symbols": {"update": {
                                         "shape": {"signal": "datum.value == 'ch4' ? 'M-1,0L1,0M0.2,0A0.2,0.2,0,1,0,-0.2,0A0.2,0.2,0,1,0,0.2,0Z' : datum.value == 'co2' ? 'M-1,0L1,0M0,-0.3L0.27,0.17L-0.27,0.17Z' : 'M-1,0L1,0M-0.2,-0.2L0.2,-0.2L0.2,0.2L-0.2,0.2Z'"},
                                         "fill": {"signal": "datum.value == 'ch4' ? '#00b050' : datum.value == 'co2' ? '#ed7d31' : '#4472c4'"},
                                         "stroke": {"signal": "datum.value == 'ch4' ? '#00b050' : datum.value == 'co2' ? '#ed7d31' : '#4472c4'"},
                                         "strokeWidth": {"value": 2}, "opacity": {"value": 1}}}}}},
                  "order": {"field": "depth", "type": "quantitative"}
                },
                "layer": [
                  {"mark": {"type": "line", "strokeWidth": 2.25}},
                  {"mark": {"type": "point", "filled": true, "opacity": 1, "size": 70}, "encoding": {"shape": {"field": "gas", "type": "nominal", "scale": {"domain": ["ch4", "co2", "o2"], "range": ["circle", "triangle-up", "square"]}, "legend": null}}}
                ]}
             ]}
          ]
        }
      ],
      "spacing": 42,
      "resolve": {"scale": {"color": "independent"}, "legend": {"color": "independent"}}
    }
  ]
}
